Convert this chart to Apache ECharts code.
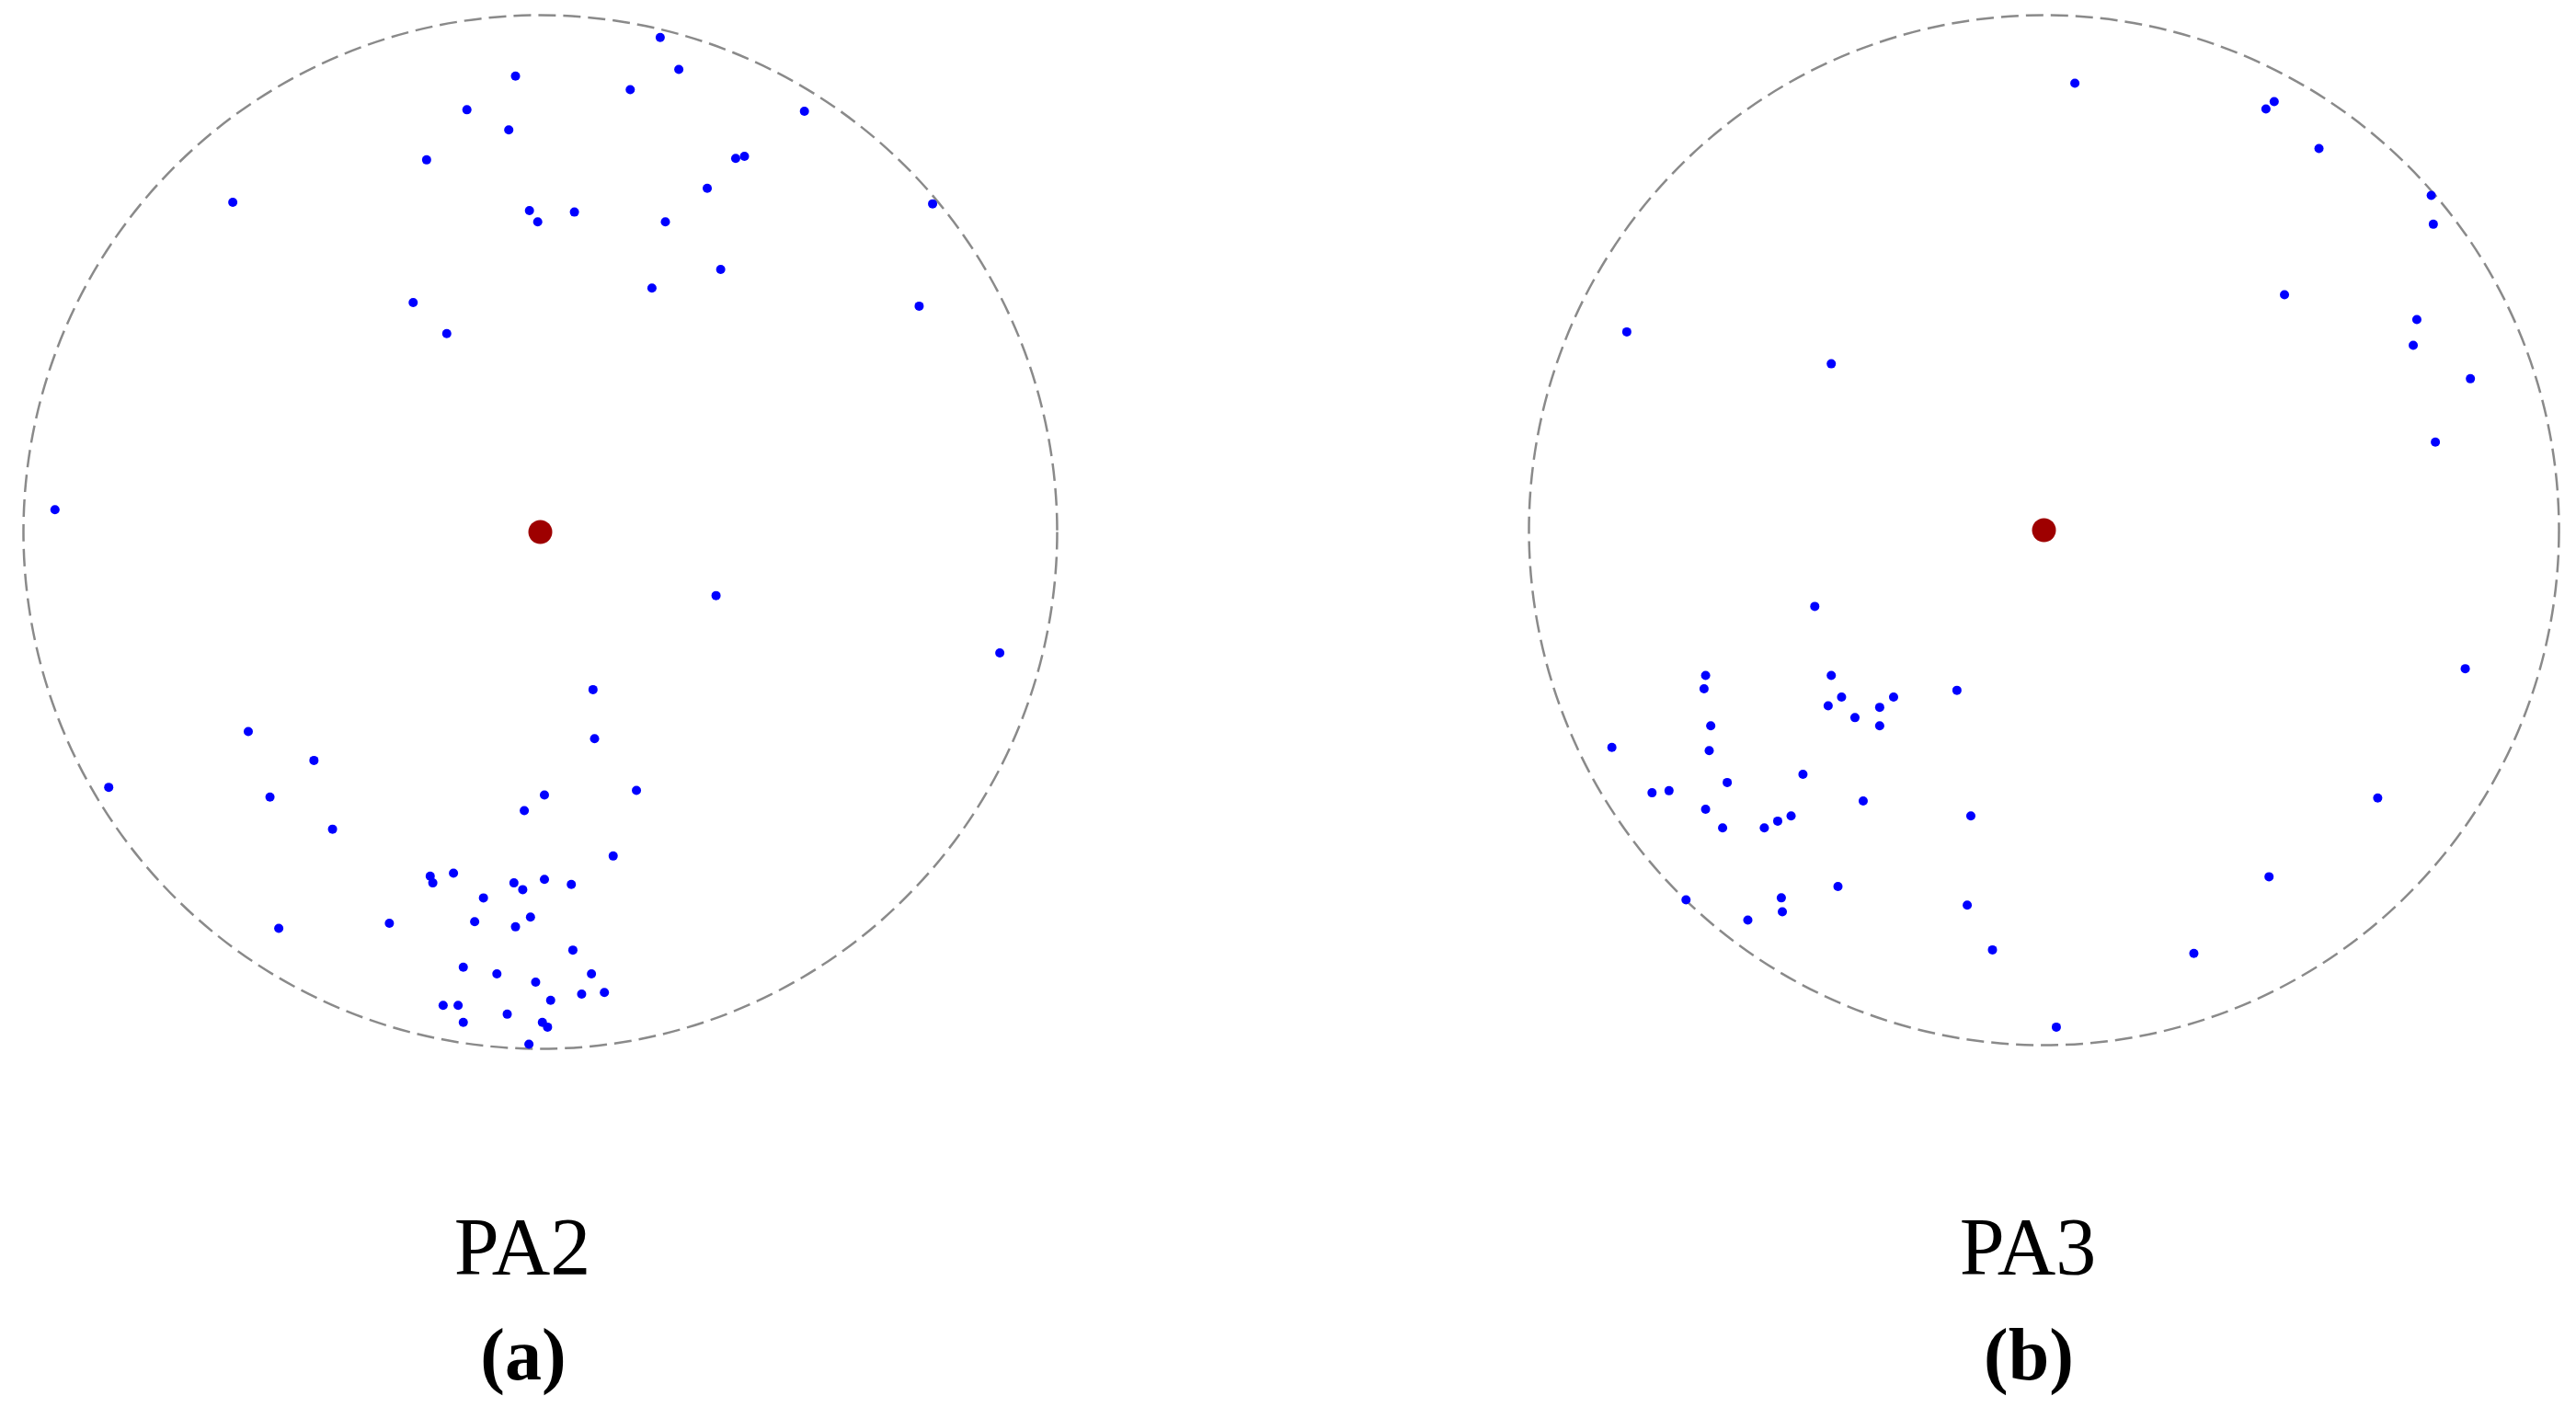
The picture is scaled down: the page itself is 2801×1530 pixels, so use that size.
<!DOCTYPE html>
<html>
<head>
<meta charset="utf-8">
<script src="https://cdn.jsdelivr.net/npm/echarts@6/dist/echarts.min.js"></script>
<style>
html,body{margin:0;padding:0;background:#fff;}
#chart{width:2801px;height:1530px;}
</style>
</head>
<body>
<div id="chart"></div>
<script>
// Normalised pole positions (unit circle = stereonet primitive)
const pa2Points = [
  [-0.048,0.882],[-0.142,0.817],[-0.061,0.778],[-0.220,0.720],[-0.595,0.638],[-0.021,0.622],[-0.005,0.600],[-0.246,0.444],[-0.181,0.384],[-0.939,0.043],
  [0.232,0.957],[0.268,0.895],[0.174,0.856],[0.511,0.814],[0.378,0.723],[0.395,0.727],[0.323,0.665],[0.066,0.619],[0.242,0.600],[0.759,0.635],[0.349,0.508],[0.216,0.472],[0.733,0.437],
  [0.340,-0.123],[0.889,-0.234],
  [-0.565,-0.386],[-0.438,-0.442],[-0.835,-0.494],[-0.523,-0.513],[-0.402,-0.575],[0.008,-0.509],[-0.031,-0.539],
  [0.102,-0.305],[0.105,-0.400],[0.186,-0.500],[0.141,-0.627],
  [-0.213,-0.666],[-0.208,-0.679],[-0.168,-0.660],[-0.051,-0.679],[-0.034,-0.692],[0.008,-0.672],[0.060,-0.682],
  [-0.110,-0.708],[-0.127,-0.754],[-0.048,-0.764],[-0.019,-0.745],[-0.292,-0.757],[-0.506,-0.767],
  [0.063,-0.809],[-0.149,-0.842],[-0.084,-0.855],[-0.009,-0.871],[0.099,-0.855],[0.020,-0.906],[0.080,-0.894],[0.124,-0.891],
  [-0.188,-0.916],[-0.159,-0.916],[-0.064,-0.933],[-0.149,-0.949],[0.004,-0.949],[0.014,-0.958],[-0.022,-0.991]
];
const pa3Points = [
  [-0.810,0.385],[-0.413,0.323],[0.060,0.868],[0.447,0.832],[0.431,0.818],[0.534,0.741],[0.752,0.650],[0.756,0.594],[0.467,0.457],[0.724,0.409],[0.717,0.359],[0.828,0.294],[0.760,0.171],
  [-0.445,-0.148],[-0.657,-0.282],[-0.660,-0.308],[-0.413,-0.282],[-0.393,-0.324],[-0.419,-0.341],[-0.367,-0.364],[-0.319,-0.344],[-0.292,-0.324],[-0.319,-0.380],[-0.169,-0.311],[-0.647,-0.380],[-0.839,-0.422],[-0.650,-0.428],[-0.468,-0.474],[-0.615,-0.490],[-0.761,-0.510],[-0.728,-0.506],[-0.351,-0.526],[-0.657,-0.542],[-0.142,-0.555],[-0.624,-0.578],[-0.543,-0.578],[-0.517,-0.565],[-0.491,-0.555],[-0.400,-0.692],[-0.510,-0.714],[-0.508,-0.741],[-0.695,-0.718],[-0.575,-0.757],[-0.149,-0.728],[-0.100,-0.815],
  [0.818,-0.269],[0.648,-0.520],[0.437,-0.673],[0.291,-0.822],[0.024,-0.965]
];
const centerPoint = [[0, 0]];
const panelTitles = ['PA2', 'PA3'];
const panelLetters = ['(a)', '(b)'];

// layout (pixels)
const panels = [
  {cx: 587.5, cy: 578.5, r: 562, textX: 568},
  {cx: 2222.5, cy: 576.5, r: 560, textX: 2205}
];

const chart = echarts.init(document.getElementById('chart'), null, {renderer: 'canvas'});

const grids = panels.map(p => ({left: p.cx - p.r, top: p.cy - p.r, width: 2 * p.r, height: 2 * p.r, containLabel: false}));
const axisCommon = {type: 'value', min: -1, max: 1, show: false, splitLine: {show: false}};
const polars = panels.map(p => ({center: [p.cx, p.cy], radius: p.r}));
const angleAxes = panels.map((p, i) => ({
  polarIndex: i, type: 'value', min: 0, max: 360,
  axisLine: {show: true, lineStyle: {color: '#8a8a8a', width: 2.5, type: [19, 8]}},
  axisTick: {show: false}, axisLabel: {show: false}, splitLine: {show: false}, splitArea: {show: false}
}));
const radiusAxes = panels.map((p, i) => ({polarIndex: i, type: 'value', min: 0, max: 1, show: false}));

const dataSets = [pa2Points, pa3Points];
const series = [];
dataSets.forEach((d, i) => {
  series.push({
    type: 'scatter', xAxisIndex: i, yAxisIndex: i, data: d,
    symbol: 'circle', symbolSize: 10, itemStyle: {color: '#0000ff', opacity: 1}, silent: true, z: 3
  });
  series.push({
    type: 'scatter', xAxisIndex: i, yAxisIndex: i, data: centerPoint,
    symbol: 'circle', symbolSize: 26, itemStyle: {color: '#9e0000', opacity: 1}, silent: true, z: 4
  });
});

const graphics = [];
panels.forEach((p, i) => {
  graphics.push({
    type: 'text', x: p.textX, y: 1362,
    style: {text: panelTitles[i], font: '88px "Liberation Serif"', fill: '#000', textAlign: 'center', textVerticalAlign: 'middle'}
  });
  graphics.push({
    type: 'text', x: p.textX + 1, y: 1479,
    style: {text: panelLetters[i], font: 'bold 80px "Liberation Serif"', fill: '#000', textAlign: 'center', textVerticalAlign: 'middle'}
  });
});

chart.setOption({
  animation: false,
  backgroundColor: '#ffffff',
  grid: grids,
  xAxis: panels.map((p, i) => Object.assign({gridIndex: i}, axisCommon)),
  yAxis: panels.map((p, i) => Object.assign({gridIndex: i}, axisCommon)),
  polar: polars,
  angleAxis: angleAxes,
  radiusAxis: radiusAxes,
  series: series,
  graphic: graphics
});
</script>
</body>
</html>
